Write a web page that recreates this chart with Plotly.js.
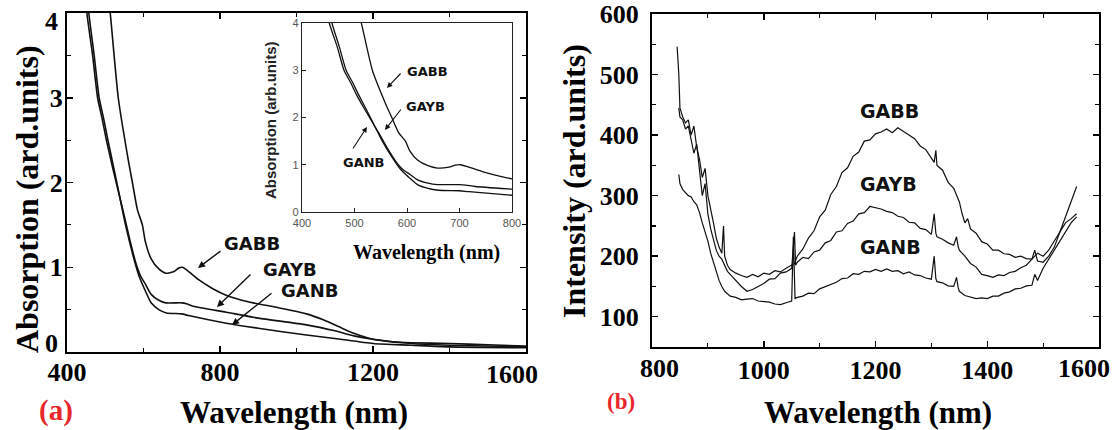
<!DOCTYPE html>
<html><head><meta charset="utf-8">
<script src="https://cdn.plot.ly/plotly-3.0.1.min.js"></script>
<style>html,body{margin:0;padding:0;background:#fff}#chart{width:1118px;height:430px}</style>
</head><body><div id="chart"></div>
<script>
// ---------- (a) Absorption ----------
const absGABB_x = [505, 513, 534, 560, 571, 584, 597, 605, 620, 640, 658, 680, 692, 702, 715, 745, 780, 816, 850, 887, 955, 1026, 1070, 1110, 1150, 1200, 1250, 1300, 1400, 1500, 1600];
const absGABB_y = [4.3, 4.0, 3.0, 2.27, 2.0, 1.68, 1.5, 1.3, 1.1, 0.98, 0.93, 0.95, 0.99, 1.0, 0.96, 0.85, 0.75, 0.67, 0.62, 0.58, 0.52, 0.45, 0.38, 0.3, 0.22, 0.15, 0.12, 0.11, 0.1, 0.085, 0.07];
const absGAYB_x = [448, 452, 467, 480, 492, 503, 518, 534, 550, 566, 580, 592, 605, 620, 640, 658, 700, 712, 730, 816, 900, 1026, 1100, 1150, 1200, 1300, 1400, 1600];
const absGAYB_y = [4.3, 4.0, 3.5, 3.0, 2.75, 2.5, 2.2, 1.9, 1.6, 1.29, 1.05, 0.9, 0.8, 0.68, 0.61, 0.58, 0.58, 0.57, 0.54, 0.47, 0.4, 0.32, 0.25, 0.19, 0.15, 0.1, 0.08, 0.06];
const absGANB_x = [452, 457, 471, 484, 496, 507, 521, 537, 553, 572, 588, 605, 620, 640, 660, 700, 718, 816, 900, 1026, 1100, 1200, 1300, 1400, 1600];
const absGANB_y = [4.3, 4.0, 3.5, 3.0, 2.75, 2.5, 2.2, 1.85, 1.5, 1.15, 0.9, 0.72, 0.58, 0.5, 0.46, 0.45, 0.43, 0.34, 0.28, 0.2, 0.16, 0.1, 0.08, 0.06, 0.05];
const absTicks = [400, 800, 1200, 1600];
const absTickText = ['400', '800', '1200', ''];   // 1600 drawn as a text, nudged inside like the original
const absYTicks = [0, 1, 2, 3, 4];
const absYTickText = ['', '1', '2', '3', ''];      // 0 and 4 drawn as texts, nudged inside like the original

// ---------- (b) Emission intensity ----------
const plGABB_x = [845, 848, 850, 855, 860, 865, 870, 875, 880, 885, 890, 895, 900, 905, 910, 915, 920, 925, 928, 930, 935, 940, 950, 960, 970, 980, 990, 1000, 1010, 1020, 1030, 1040, 1050, 1055, 1060, 1070, 1080, 1090, 1100, 1110, 1120, 1130, 1140, 1150, 1160, 1170, 1180, 1190, 1200, 1210, 1220, 1230, 1240, 1250, 1260, 1270, 1280, 1290, 1300, 1305, 1308, 1310, 1320, 1330, 1340, 1345, 1350, 1355, 1360, 1365, 1370, 1380, 1390, 1400, 1410, 1420, 1430, 1440, 1450, 1460, 1470, 1480, 1485, 1490, 1500, 1510, 1520, 1530, 1540, 1550, 1555, 1560];
const plGABB_y = [546, 500, 445, 430, 420, 425, 400, 415, 380, 360, 330, 345, 300, 280, 255, 230, 215, 205, 250, 200, 185, 178, 172, 168, 165, 170, 166, 172, 170, 176, 174, 180, 185, 188, 200, 212, 230, 242, 265, 276, 302, 315, 338, 346, 365, 372, 390, 392, 402, 405, 410, 404, 412, 406, 400, 394, 382, 376, 362, 355, 375, 350, 342, 322, 312, 300, 290, 270, 255, 262, 245, 238, 224, 220, 210, 210, 204, 203, 198, 200, 196, 195, 210, 192, 190, 200, 215, 240, 265, 290, 300, 315];
const plGAYB_x = [848, 850, 855, 860, 865, 870, 875, 880, 885, 890, 895, 900, 905, 910, 915, 920, 925, 930, 935, 940, 950, 960, 970, 980, 990, 1000, 1010, 1020, 1030, 1040, 1050, 1055, 1057, 1060, 1070, 1080, 1090, 1100, 1110, 1120, 1130, 1140, 1150, 1160, 1170, 1180, 1190, 1200, 1210, 1220, 1230, 1240, 1250, 1260, 1270, 1280, 1290, 1300, 1305, 1308, 1310, 1320, 1330, 1340, 1345, 1348, 1350, 1360, 1370, 1380, 1390, 1400, 1410, 1420, 1430, 1440, 1450, 1460, 1470, 1480, 1490, 1500, 1510, 1520, 1530, 1540, 1550, 1560];
const plGAYB_y = [445, 430, 425, 410, 415, 390, 370, 385, 340, 300, 320, 270, 245, 225, 210, 200, 195, 185, 175, 170, 160, 150, 142, 145, 150, 155, 162, 163, 172, 174, 180, 240, 185, 190, 198, 196, 207, 210, 222, 226, 240, 242, 254, 258, 270, 272, 282, 280, 278, 274, 272, 266, 264, 256, 255, 246, 244, 236, 270, 238, 232, 228, 222, 218, 232, 216, 210, 200, 188, 182, 170, 168, 165, 169, 168, 173, 175, 181, 185, 195, 205, 200, 210, 225, 240, 255, 262, 270];
const plGANB_x = [848, 850, 855, 860, 865, 870, 875, 880, 885, 890, 895, 900, 905, 910, 915, 920, 925, 930, 935, 940, 950, 960, 970, 980, 990, 1000, 1010, 1020, 1030, 1040, 1050, 1053, 1056, 1060, 1070, 1080, 1090, 1100, 1110, 1120, 1130, 1140, 1150, 1160, 1170, 1180, 1190, 1200, 1210, 1220, 1230, 1240, 1250, 1260, 1270, 1280, 1290, 1300, 1305, 1308, 1310, 1320, 1330, 1340, 1345, 1348, 1350, 1360, 1370, 1380, 1390, 1400, 1410, 1420, 1430, 1440, 1450, 1460, 1470, 1480, 1485, 1490, 1500, 1510, 1520, 1530, 1540, 1550, 1560];
const plGANB_y = [335, 320, 310, 305, 300, 298, 290, 285, 272, 255, 240, 225, 205, 190, 175, 160, 150, 142, 138, 134, 132, 128, 129, 130, 126, 125, 124, 121, 120, 123, 126, 232, 130, 132, 134, 139, 138, 146, 150, 153, 157, 163, 164, 171, 170, 175, 174, 178, 175, 179, 175, 176, 171, 174, 169, 168, 164, 162, 200, 163, 158, 156, 151, 150, 165, 148, 142, 135, 133, 130, 131, 130, 134, 134, 139, 141, 146, 147, 151, 152, 170, 160, 180, 195, 210, 225, 240, 255, 265];
const plTicks = [800, 1000, 1200, 1400, 1600];
const plTickText = ['', '1000', '1200', '1400', ''];  // 800 and 1600 drawn as texts, nudged like the original

const W = 1118, H = 430;
const px = v => v / W, py = v => 1 - v / H;

const lineA = {color: '#111', width: 1.6, shape: 'spline', smoothing: 0.6};
const lineI = {color: '#111', width: 1.3, shape: 'spline', smoothing: 0.6};
const lineB = {color: '#111', width: 1.2};
const traces = [
  {x: absGABB_x, y: absGABB_y, xaxis: 'x', yaxis: 'y', mode: 'lines', line: lineA, name: 'GABB'},
  {x: absGAYB_x, y: absGAYB_y, xaxis: 'x', yaxis: 'y', mode: 'lines', line: lineA, name: 'GAYB'},
  {x: absGANB_x, y: absGANB_y, xaxis: 'x', yaxis: 'y', mode: 'lines', line: lineA, name: 'GANB'},
  {x: absGABB_x, y: absGABB_y, xaxis: 'x2', yaxis: 'y2', mode: 'lines', line: lineI, name: 'GABB'},
  {x: absGAYB_x, y: absGAYB_y, xaxis: 'x2', yaxis: 'y2', mode: 'lines', line: lineI, name: 'GAYB'},
  {x: absGANB_x, y: absGANB_y, xaxis: 'x2', yaxis: 'y2', mode: 'lines', line: lineI, name: 'GANB'},
  {x: plGABB_x, y: plGABB_y, xaxis: 'x3', yaxis: 'y3', mode: 'lines', line: lineB, name: 'GABB'},
  {x: plGAYB_x, y: plGAYB_y, xaxis: 'x3', yaxis: 'y3', mode: 'lines', line: lineB, name: 'GAYB'},
  {x: plGANB_x, y: plGANB_y, xaxis: 'x3', yaxis: 'y3', mode: 'lines', line: lineB, name: 'GANB'}
];

const bigTick = {family: 'Liberation Serif', size: 26, color: '#000', weight: 'bold'};
const mainAxis = (extra) => Object.assign({
  showline: true, linecolor: '#000', linewidth: 2, mirror: 'ticks',
  ticks: 'inside', ticklen: 6, tickwidth: 1.5, tickcolor: '#000',
  showgrid: false, zeroline: false, tickfont: bigTick, ticklabeloverflow: 'allow'
}, extra);
const insetAxis = (extra) => Object.assign({
  showline: true, linecolor: '#222', linewidth: 1.3, mirror: true,
  ticks: 'inside', ticklen: 4, tickwidth: 1, tickcolor: '#222',
  showgrid: false, zeroline: false, ticklabeloverflow: 'allow',
  tickfont: {family: 'Liberation Sans', size: 11, color: '#555'}
}, extra);

const layout = {
  width: W, height: H,
  margin: {l: 0, r: 0, t: 0, b: 0, pad: 0},
  paper_bgcolor: '#fff', plot_bgcolor: 'rgba(0,0,0,0)',
  showlegend: false,
  xaxis: mainAxis({domain: [px(67), px(526)], range: [400, 1600], tickmode: 'array', tickvals: absTicks, ticktext: absTickText, anchor: 'y',
    minor: {tick0: 400, dtick: 200, ticks: 'inside', ticklen: 4, tickwidth: 1.2, tickcolor: '#000'}, ticklabelstandoff: -4}),
  yaxis: mainAxis({domain: [py(352), py(13)], range: [0, 4], tickmode: 'array', tickvals: absYTicks, ticktext: absYTickText, anchor: 'x',
    minor: {tick0: 0, dtick: 0.5, ticks: 'inside', ticklen: 4, tickwidth: 1.2, tickcolor: '#000'}, ticklabelstandoff: -3}),
  xaxis2: insetAxis({domain: [px(302), px(512)], range: [400, 800], tick0: 400, dtick: 100, anchor: 'y2'}),
  yaxis2: insetAxis({domain: [py(212), py(23)], range: [0, 4], tick0: 0, dtick: 1, anchor: 'x2'}),
  xaxis3: mainAxis({domain: [px(652), px(1099)], range: [800, 1600], tickmode: 'array', tickvals: plTicks, ticktext: plTickText, anchor: 'y3',
    minor: {tick0: 800, dtick: 100, ticks: 'inside', ticklen: 4, tickwidth: 1.2, tickcolor: '#000'}, ticklabelstandoff: -1}),
  yaxis3: mainAxis({domain: [py(347), py(14)], range: [50, 600], tick0: 0, dtick: 100, anchor: 'x3',
    minor: {tick0: 0, dtick: 50, ticks: 'inside', ticklen: 4, tickwidth: 1.2, tickcolor: '#000'}, ticklabelstandoff: 6}),
  annotations: []
};

const A = layout.annotations;
const serifB = (s) => ({family: 'Liberation Serif', size: s, color: '#000', weight: 'bold'});
const sansB = (s) => ({family: 'DejaVu Sans', size: s, color: '#111', weight: 'bold'});
function txt(t, x, y, font, angle, xanchor) {
  A.push({text: t, xref: 'paper', yref: 'paper', x: px(x), y: py(y), xanchor: xanchor || 'center', yanchor: 'middle',
    showarrow: false, font: font, textangle: angle || 0});
}
function arrow(hx, hy, tx, ty, w) {
  A.push({text: '', xref: 'paper', yref: 'paper', x: px(hx), y: py(hy), ax: tx - hx, ay: ty - hy,
    axref: 'pixel', ayref: 'pixel', showarrow: true, arrowhead: 2, arrowsize: 1, arrowwidth: w,
    arrowcolor: '#111', standoff: 0, startstandoff: 0});
}
// end tick labels nudged inside like the original
txt('1600', 512, 374, bigTick);
txt('4', 60, 22, bigTick, 0, 'right');
txt('0', 60, 343, bigTick, 0, 'right');
txt('800', 659, 368, bigTick);
txt('1600', 1084, 368, bigTick);
// axis titles
txt('Absorption (ard.units)', 27, 199, serifB(32), -90);
txt('Wavelength (nm)', 294, 412, serifB(31));
txt('Intensity (ard.units)', 574, 181, serifB(32), -90);
txt('Wavelength (nm)', 878, 412, serifB(31));
// inset titles
txt('Absorption (arb.units)', 270, 120, {family: 'Liberation Sans', size: 15, color: '#222', weight: 'bold'}, -90);
txt('Wavelength (nm)', 426, 253, serifB(20));
// panel letters
txt('(a)', 56, 410, {family: 'Liberation Serif', size: 29, color: '#e8262b', weight: 'bold'});
txt('(b)', 621, 401, {family: 'Liberation Serif', size: 23, color: '#e8262b', weight: 'bold'});
// curve labels (a)
txt('GABB', 252, 243, sansB(18));
txt('GAYB', 290, 269, sansB(18));
txt('GANB', 310, 290, sansB(18));
arrow(198, 268, 222, 250, 1.4);
arrow(217, 307, 252, 273, 1.4);
arrow(232, 325, 273, 292, 1.4);
// inset labels
txt('GABB', 427, 72, sansB(13));
txt('GAYB', 425, 107, sansB(13));
txt('GANB', 364, 162, sansB(13));
arrow(387, 88, 402, 72, 1.1);
arrow(385, 130, 402, 108, 1.1);
arrow(367, 127, 352, 150, 1.1);
// curve labels (b)
txt('GABB', 889, 111, sansB(19));
txt('GAYB', 888, 184, sansB(19));
txt('GANB', 890, 247, sansB(19));

Plotly.newPlot('chart', traces, layout, {staticPlot: true, displayModeBar: false});
</script></body></html>
